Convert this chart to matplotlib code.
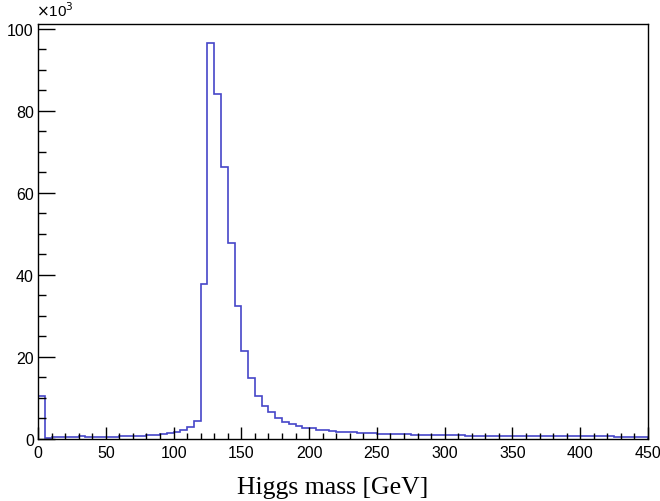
import numpy as np
import matplotlib
matplotlib.use("Agg")
import matplotlib.pyplot as plt
from matplotlib.ticker import MultipleLocator

# bin edges in GeV (5 GeV bins), counts in units of 10^3
edges = np.arange(0, 455, 5)
counts = [
    10.5, 0.3, 0.4, 0.45, 0.6, 0.6, 0.65, 0.6, 0.6, 0.6,
    0.6, 0.6, 0.65, 0.7, 0.75, 0.8, 0.9, 1.0, 1.1, 1.4,
    1.8, 2.3, 3.0, 4.5, 37.8, 96.4, 84.0, 66.2, 47.7, 32.5,
    21.5, 14.9, 10.6, 8.0, 6.5, 5.1, 4.2, 3.7, 3.2, 2.8,
    2.6, 2.3, 2.1, 1.95, 1.8, 1.7, 1.6, 1.5, 1.45, 1.4,
    1.3, 1.25, 1.2, 1.15, 1.1, 1.05, 1.0, 1.0, 0.95, 0.95,
    0.9, 0.9, 0.9, 0.85, 0.85, 0.85, 0.8, 0.8, 0.8, 0.8,
    0.75, 0.75, 0.75, 0.75, 0.7, 0.7, 0.7, 0.7, 0.7, 0.7,
    0.65, 0.65, 0.65, 0.65, 0.65, 0.6, 0.6, 0.6, 0.6, 0.6,
]
x_label = "Higgs mass [GeV]"

fig = plt.figure(figsize=(6.6, 5.02), dpi=100)
ax = fig.add_axes([0.0576, 0.1235, 0.9242, 0.8273])

ax.stairs(counts, edges, color="#4646c8", lw=1.2)

ax.set_xlim(0, 450)
ax.set_ylim(0, 1.05 * max(counts))

ax.xaxis.set_major_locator(MultipleLocator(50))
ax.xaxis.set_minor_locator(MultipleLocator(10))
ax.yaxis.set_major_locator(MultipleLocator(20))
ax.yaxis.set_minor_locator(MultipleLocator(5))

ax.tick_params(which="both", direction="in", top=False, right=False,
               labelsize=11.5, color="black", width=1.0)
ax.tick_params(axis="x", which="major", length=9, pad=4)
ax.tick_params(axis="x", which="minor", length=4.5)
ax.tick_params(axis="y", which="major", length=12, pad=3)
ax.tick_params(axis="y", which="minor", length=6)

for lbl in ax.get_xticklabels() + ax.get_yticklabels():
    lbl.set_family("Liberation Sans")

for sp in ax.spines.values():
    sp.set_linewidth(1.0)

# axis title, placed like ROOT does it
fig.text(0.504, 0.016, x_label, family="Liberation Serif", fontsize=18.5,
         ha="center", va="baseline")
fig.text(0.054, 0.96, r"$\times$10$^{3}$", family="Liberation Sans",
         fontsize=11, ha="left", va="bottom")

fig.savefig("out.png", dpi=100)
